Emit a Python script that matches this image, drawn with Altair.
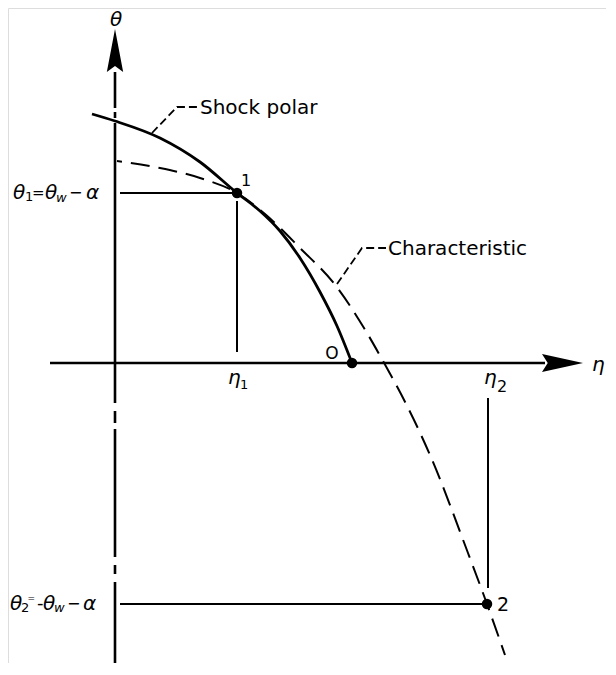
import altair as alt
import pandas as pd

# ---- data (eta, theta in arbitrary units; origin at axes crossing) ----
polar_eta = [-0.23, 0.00, 0.45, 0.85, 1.22, 1.45, 1.65, 1.85, 2.05, 2.22, 2.37]
polar_theta = [2.49, 2.42, 2.25, 2.01, 1.70, 1.52, 1.32, 1.05, 0.71, 0.37, 0.00]

char_eta = [0.02, 0.45, 0.85, 1.22, 1.50, 1.85, 2.21, 2.49, 2.68, 2.86, 3.15, 3.53, 3.72, 3.90]
char_theta = [2.02, 1.95, 1.85, 1.70, 1.49, 1.15, 0.77, 0.35, 0.02, -0.31, -0.92, -1.90, -2.41, -2.92]

point_names = ["1", "O", "2"]
point_eta = [1.22, 2.37, 3.72]
point_theta = [1.70, 0.00, -2.41]

eta1, theta1 = 1.22, 1.70
eta2, theta2 = 3.73, -2.41

XDOM = [-1.07, 4.91]
YDOM = [-3.00, 3.55]
W, H = 598, 655


def X(field="x"):
    return alt.X(f"{field}:Q", scale=alt.Scale(domain=XDOM, nice=False, zero=False), axis=None)


def Y(field="y"):
    return alt.Y(f"{field}:Q", scale=alt.Scale(domain=YDOM, nice=False, zero=False), axis=None)


def path(xs, ys, width=2.2, dash=None, offset=None, interp="linear"):
    df = pd.DataFrame({"x": xs, "y": ys, "i": list(range(len(xs)))})
    kw = dict(color="black", strokeWidth=width, interpolate=interp, strokeCap="butt")
    if dash:
        kw["strokeDash"] = dash
    if offset is not None:
        kw["strokeDashOffset"] = offset
    return alt.Chart(df).mark_line(**kw).encode(x=X(), y=Y(), order="i:Q")


layers = []

# axes (vertical axis is broken in a few places, as in the original drawing)
layers.append(path([0, 0], [2.91, -3.00], width=2.6,
                   dash=[36, 4, 6, 5, 280, 8, 12, 6, 128, 8, 9, 8, 300]))
layers.append(path([-0.65, 4.30], [0, 0], width=2.6))

# arrowheads
arrows = pd.DataFrame({"x": [0.0, 4.475], "y": [3.125, 0.0], "k": ["up", "right"]})
layers.append(
    alt.Chart(arrows[arrows.k == "up"]).mark_point(
        shape="M0,-1 L0.38,1 L0,0.72 L-0.38,1 Z", size=1849, filled=True,
        color="black", opacity=1, strokeWidth=0
    ).encode(x=X(), y=Y())
)
layers.append(
    alt.Chart(arrows[arrows.k == "right"]).mark_point(
        shape="M1,0 L-1,-0.44 L-0.72,0 L-1,0.44 Z", size=1681, filled=True,
        color="black", opacity=1, strokeWidth=0
    ).encode(x=X(), y=Y())
)

# construction lines
layers.append(path([0.05, eta1], [theta1, theta1], width=2.0))
layers.append(path([eta1, eta1], [1.62, 0.11], width=2.0))
layers.append(path([0.05, eta2], [theta2, theta2], width=2.0))
layers.append(path([eta2, eta2], [-0.35, -2.25], width=2.0))

# curves
layers.append(path(polar_eta, polar_theta, width=2.8, interp="monotone"))
layers.append(path(char_eta, char_theta, width=2.0, dash=[19, 9], offset=14, interp="monotone"))

# leader lines
layers.append(path([0.37, 0.62, 0.83], [2.30, 2.56, 2.56], width=1.8, dash=[8, 4]))
layers.append(path([2.22, 2.47, 2.71], [0.79, 1.15, 1.15], width=1.8, dash=[8, 4]))

# points
pts = pd.DataFrame({"x": point_eta, "y": point_theta, "n": point_names})
layers.append(
    alt.Chart(pts).mark_circle(size=110, color="black", opacity=1).encode(x=X(), y=Y())
)

# text annotations: text, x, y, size, align, greek
ann = [
    ("θ", 0.01, 3.43, 20, "center", True),
    ("η", 4.77, -0.02, 20, "left", True),
    ("η", 1.13, -0.15, 20, "left", True),
    ("1", 1.25, -0.22, 13, "left", False),
    ("η", 3.69, -0.15, 20, "left", True),
    ("2", 3.82, -0.24, 16, "left", False),
    ("O", 2.17, 0.09, 17, "center", False),
    ("1", 1.31, 1.82, 16, "center", False),
    ("2", 3.82, -2.42, 19, "left", False),
    ("Shock polar", 0.85, 2.55, 20, "left", False),
    ("Characteristic", 2.73, 1.14, 20, "left", False),
    # theta_1 = theta_w - alpha
    ("θ", -1.02, 1.70, 20, "left", True),
    ("1", -0.90, 1.66, 13, "left", False),
    ("=", -0.83, 1.70, 15, "left", False),
    ("θ", -0.70, 1.70, 20, "left", True),
    ("w", -0.59, 1.65, 13, "left", True),
    ("−", -0.46, 1.70, 16, "left", False),
    ("α", -0.29, 1.70, 20, "left", True),
    # theta_2 = -theta_w - alpha
    ("θ", -1.05, -2.41, 20, "left", True),
    ("2", -0.94, -2.45, 13, "left", False),
    ("=", -0.875, -2.35, 9, "left", False),
    ("-", -0.78, -2.41, 18, "left", False),
    ("θ", -0.72, -2.41, 20, "left", True),
    ("w", -0.61, -2.45, 13, "left", True),
    ("−", -0.48, -2.41, 16, "left", False),
    ("α", -0.32, -2.41, 20, "left", True),
]
ann_df = pd.DataFrame(ann, columns=["t", "x", "y", "s", "a", "g"])

for align in ["left", "center"]:
    for greek in [True, False]:
        sub = ann_df[(ann_df.a == align) & (ann_df.g == greek)]
        if len(sub) == 0:
            continue
        kw = dict(align=align, baseline="middle", font="DejaVu Sans", color="black")
        if greek:
            kw["fontStyle"] = "italic"
        layers.append(
            alt.Chart(sub).mark_text(**kw).encode(
                x=X(), y=Y(), text="t:N", size=alt.Size("s:Q", scale=None)
            )
        )

chart = (
    alt.layer(*layers)
    .properties(width=W, height=H, padding=0, autosize=alt.AutoSizeParams(type="none"))
    .configure_view(strokeWidth=0)
    .configure(background="white")
)

chart.save("out.html", embed_options={"renderer": "svg", "actions": False})
